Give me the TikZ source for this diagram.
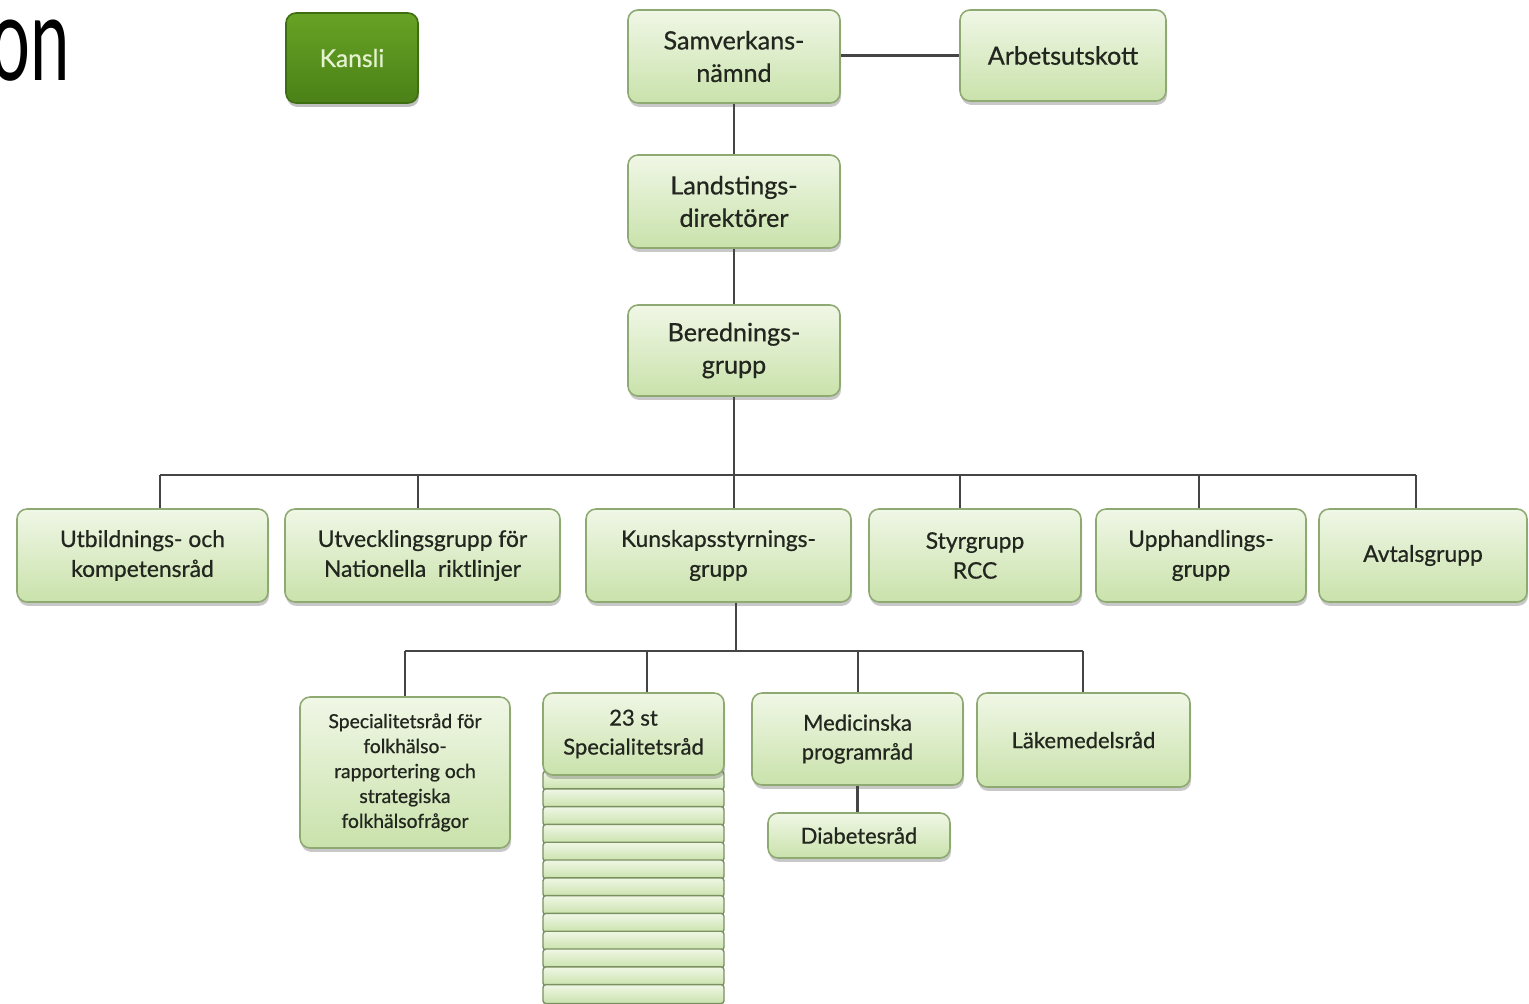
\documentclass[tikz,border=0pt]{standalone}
\usepackage{fontspec}
\setmainfont{Lato}[FakeBold=0.7]
\newfontfamily\bigfont[FakeStretch=0.6]{Lato}
\usetikzlibrary{shadows}
\definecolor{boxtop}{HTML}{F0F7E6}
\definecolor{boxbot}{HTML}{C9E2AB}
\definecolor{boxborder}{HTML}{8FA972}
\definecolor{txt}{HTML}{22261E}
\definecolor{linec}{HTML}{454545}
\definecolor{kantop}{HTML}{67A325}
\definecolor{kanbot}{HTML}{4B8117}
\definecolor{kanborder}{HTML}{3F6E12}
\definecolor{kantxt}{HTML}{E4F2CF}
\newcommand\bx[7]{\node[#6, minimum width={(#4-#2)*0.02cm}, minimum height={(#5-#3)*0.02cm}] (#1) at ({(#2+#4)/2},{(#3+#5)/2}) {#7};}
\begin{document}
\begin{tikzpicture}[x=0.02cm,y=-0.02cm,
  box/.style={draw=boxborder, line width=0.9pt, rounded corners=0.2cm,
    top color=boxtop, bottom color=boxbot, align=center, inner sep=1pt, text=txt,
    drop shadow={shadow xshift=0.6pt, shadow yshift=-2.2pt, opacity=0.3, fill=black!70}},
  kbox/.style={draw=kanborder, line width=0.9pt, rounded corners=0.2cm,
    top color=kantop, bottom color=kanbot, align=center, inner sep=1pt, text=kantxt,
    font=\fontsize{14}{17}\selectfont,
    drop shadow={shadow xshift=0.6pt, shadow yshift=-2.2pt, opacity=0.35, fill=black!70}},
  stripbox/.style={draw=boxborder!85!black, line width=0.8pt, rounded corners=0.06cm,
    top color=boxtop, bottom color=boxbot},
  topf/.style={font=\fontsize{14.3}{18.5}\selectfont},
  rowf/.style={font=\fontsize{13}{17}\selectfont},
  botf/.style={font=\fontsize{12.5}{16.5}\selectfont},
  smallf/.style={font=\fontsize{11}{14.2}\selectfont},
  conn/.style={draw=linec, line width=1.2pt}]
\useasboundingbox (0,0) rectangle (1529,1004);
\fill[white] (0,0) rectangle (1529,1004);

% title fragment
\node[anchor=base east, inner sep=0pt, font=\bigfont\fontsize{67}{70}\selectfont] (title) at (70,80) {on};

% top boxes
\bx{kansli}{286}{13}{418}{103}{kbox}{Kansli}
\bx{samv}{628}{10}{840}{103}{box,topf}{Samverkans-\\nämnd}
\bx{arb}{960}{10}{1166}{101}{box,topf}{Arbetsutskott}
\bx{land}{628}{155}{840}{248}{box,topf}{Landstings-\\direktörer}
\bx{bered}{628}{305}{840}{396}{box,topf}{Berednings-\\grupp}

% row boxes
\bx{utb}{17}{509}{268}{602}{box,rowf}{Utbildnings- och\\kompetensråd}
\bx{utv}{285}{509}{560}{602}{box,rowf}{Utvecklingsgrupp för\\Nationella\ \ riktlinjer}
\bx{kun}{586}{509}{851}{602}{box,rowf}{Kunskapsstyrnings-\\grupp}
\bx{styr}{869}{509}{1081}{602}{box,rowf}{Styrgrupp\\RCC}
\bx{upp}{1096}{509}{1306}{602}{box,rowf}{Upphandlings-\\grupp}
\bx{avt}{1319}{509}{1527}{602}{box,rowf}{Avtalsgrupp}

% stack of strips under 23 st
\foreach \i in {0,...,12}{
  \pgfmathsetmacro\ya{771+\i*17.8}
  \pgfmathsetmacro\yb{\ya+19}
  \draw[stripbox] (543,\ya) rectangle (724,\yb);
}

% bottom boxes
\bx{spf}{300}{697}{510}{848}{box,smallf}{Specialitetsråd för\\folkhälso-\\rapportering och\\strategiska\\folkhälsofrågor}
\bx{s23}{543}{693}{724}{775}{box,botf}{23 st\\Specialitetsråd}
\bx{med}{752}{693}{963}{785}{box,botf}{Medicinska\\programråd}
\bx{lak}{977}{693}{1190}{787}{box,botf}{Läkemedelsråd}
\bx{dia}{768}{813}{950}{858}{box,botf}{Diabetesråd}

% bus coordinates
\coordinate (dutb) at (160,475);
\coordinate (dutv) at (418,475);
\coordinate (dkun) at (735,475);
\coordinate (dstyr) at (960,475);
\coordinate (dupp) at (1199,475);
\coordinate (davt) at (1416,475);
\coordinate (dspf) at (405,651);
\coordinate (ds23) at (647,651);
\coordinate (dmed) at (858,651);
\coordinate (dlak) at (1083,651);
\coordinate (dmid) at (736,651);

% connectors
\draw[conn] (samv.east |- arb.west) -- (arb.west);
\draw[conn] (samv.south) -- (land.north);
\draw[conn] (land.south) -- (bered.north);
\draw[conn] (bered.south) -- (bered.south |- kun.north);
\draw[conn] (dutb) -- (davt);
\draw[conn] (dutb) -- (dutb |- utb.north);
\draw[conn] (dutv) -- (dutv |- utv.north);
\draw[conn] (dstyr) -- (dstyr |- styr.north);
\draw[conn] (dupp) -- (dupp |- upp.north);
\draw[conn] (davt) -- (davt |- avt.north);
\draw[conn] (dmid |- kun.south) -- (dmid);
\draw[conn] (dspf) -- (dlak);
\draw[conn] (dspf) -- (dspf |- spf.north);
\draw[conn] (ds23) -- (ds23 |- s23.north);
\draw[conn] (dmed) -- (dmed |- med.north);
\draw[conn] (dlak) -- (dlak |- lak.north);
\draw[conn] (med.south) -- (med.south |- dia.north);
\end{tikzpicture}
\end{document}
